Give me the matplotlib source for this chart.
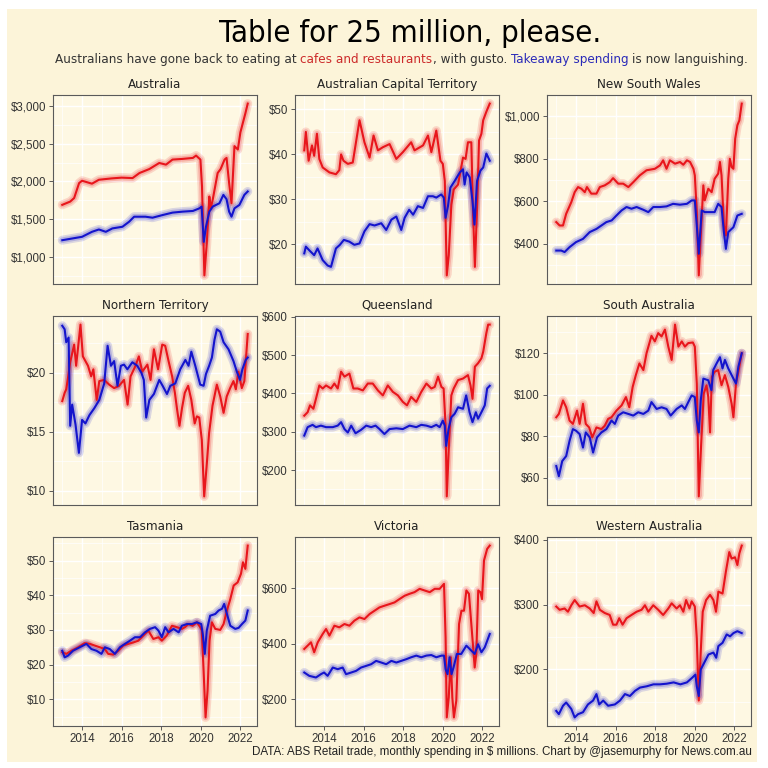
import numpy as np
import matplotlib
matplotlib.use("Agg")
import matplotlib.pyplot as plt
from matplotlib import font_manager as fm
from matplotlib.patches import Rectangle
from matplotlib.ticker import MultipleLocator, AutoMinorLocator, FuncFormatter

plt.rcParams['font.family'] = ['Liberation Sans', 'DejaVu Sans']

# monthly spending, $ millions as (decimal year, value)
australia_cafes = [(2013.0, 1690), (2013.4, 1733), (2013.6, 1780), (2013.85, 1978), (2014.0, 2009), (2014.5, 1970),
                   (2014.85, 2022), (2015.5, 2040), (2016.0, 2050), (2016.55, 2044), (2016.9, 2111), (2017.4, 2164),
                   (2017.9, 2244), (2018.24, 2222), (2018.57, 2289), (2019.08, 2298), (2019.6, 2311),
                   (2019.76, 2342), (2019.98, 2289), (2020.06, 1933), (2020.18, 756), (2020.3, 1178),
                   (2020.43, 1800), (2020.5, 1644), (2020.6, 1756), (2020.85, 2111), (2021.0, 2164),
                   (2021.2, 2289), (2021.3, 2311), (2021.43, 1978), (2021.55, 1711), (2021.7, 2467),
                   (2021.87, 2422), (2022.0, 2650), (2022.1, 2750), (2022.25, 2900), (2022.37, 3030)]
australia_takeaway = [(2013.0, 1222), (2014.0, 1267), (2014.5, 1333), (2014.85, 1364), (2015.2, 1333),
                      (2015.53, 1378), (2016.04, 1400), (2016.38, 1467), (2016.63, 1533), (2017.2, 1533),
                      (2017.56, 1520), (2018.07, 1555), (2018.57, 1587), (2019.08, 1600), (2019.6, 1609),
                      (2019.93, 1644), (2020.04, 1667), (2020.15, 1200), (2020.26, 1400), (2020.43, 1600),
                      (2020.6, 1667), (2020.94, 1711), (2021.14, 1822), (2021.3, 1764), (2021.43, 1600),
                      (2021.55, 1533), (2021.7, 1644), (2021.95, 1689), (2022.2, 1822), (2022.37, 1867)]

act_cafes = [(2013.0, 40.9), (2013.08, 45), (2013.22, 38.6), (2013.39, 42), (2013.5, 39.7), (2013.64, 44.6),
             (2013.76, 39), (2013.93, 37.1), (2014.27, 36), (2014.6, 35.6), (2014.77, 36.5), (2014.86, 40),
             (2014.98, 38.6), (2015.2, 37.9), (2015.45, 38.2), (2015.79, 47.6), (2016.04, 42.7), (2016.3, 39.3),
             (2016.5, 44.2), (2016.72, 40.9), (2016.97, 41.6), (2017.31, 42.3), (2017.65, 39), (2017.98, 40.5),
             (2018.4, 42.7), (2018.57, 40.9), (2019.0, 42), (2019.25, 44.2), (2019.42, 40.5), (2019.67, 45.3),
             (2019.88, 38.6), (2020.0, 37.9), (2020.1, 34.1), (2020.2, 13.1), (2020.3, 17.6), (2020.43, 28.8),
             (2020.55, 32.2), (2020.77, 33.3), (2021.02, 39.3), (2021.15, 39), (2021.27, 42.7), (2021.44, 42.7),
             (2021.52, 28.1), (2021.62, 15), (2021.73, 28.1), (2021.83, 43.1), (2021.95, 44.6), (2022.04, 47.6),
             (2022.2, 49.5), (2022.37, 51.3)]
act_takeaway = [(2013.0, 18), (2013.08, 19.5), (2013.25, 18.7), (2013.5, 17.6), (2013.67, 19.1), (2013.93, 16.5),
                (2014.18, 15.3), (2014.35, 15), (2014.6, 19.1), (2014.8, 19.9), (2015.0, 21), (2015.28, 20.6),
                (2015.53, 19.9), (2015.79, 20.2), (2016.04, 22.9), (2016.3, 24.5), (2016.55, 24.2),
                (2016.89, 24.7), (2017.14, 23.2), (2017.4, 25.5), (2017.65, 26.2), (2017.9, 23.2), (2018.07, 25.9),
                (2018.3, 27.7), (2018.5, 26.6), (2018.74, 28.5), (2019.0, 28.1), (2019.25, 30.7), (2019.5, 30.7),
                (2019.67, 30.4), (2019.92, 31.1), (2020.05, 30.4), (2020.14, 25.9), (2020.26, 28.5),
                (2020.38, 32.6), (2020.6, 34.1), (2020.86, 36), (2021.02, 36.7), (2021.1, 33.3), (2021.2, 36),
                (2021.36, 34.9), (2021.5, 29.6), (2021.6, 24.4), (2021.73, 34.1), (2021.9, 36.4), (2022.04, 37.1),
                (2022.2, 40.2), (2022.37, 38.6)]

nsw_cafes = [(2013.0, 502), (2013.17, 486), (2013.34, 486), (2013.5, 541), (2013.76, 596), (2013.93, 643),
             (2014.1, 667), (2014.27, 659), (2014.44, 643), (2014.55, 667), (2014.77, 636), (2015.03, 636),
             (2015.2, 667), (2015.45, 675), (2015.7, 690), (2015.87, 709), (2016.13, 683), (2016.38, 683),
             (2016.64, 667), (2016.89, 690), (2017.22, 722), (2017.56, 746), (2017.98, 753), (2018.24, 769),
             (2018.4, 793), (2018.57, 753), (2018.74, 793), (2019.0, 777), (2019.25, 785), (2019.42, 772),
             (2019.6, 793), (2019.76, 785), (2019.93, 753), (2020.0, 722), (2020.1, 549), (2020.2, 251),
             (2020.3, 439), (2020.43, 675), (2020.5, 604), (2020.68, 659), (2020.85, 643), (2021.0, 706),
             (2021.18, 730), (2021.27, 785), (2021.35, 722), (2021.47, 486), (2021.57, 439), (2021.69, 706),
             (2021.77, 800), (2021.86, 761), (2021.95, 753), (2022.04, 895), (2022.15, 958), (2022.25, 981),
             (2022.37, 1060)]
nsw_takeaway = [(2013.0, 368), (2013.25, 368), (2013.42, 361), (2013.67, 384), (2014.0, 408), (2014.35, 423),
                (2014.69, 455), (2015.03, 470), (2015.28, 486), (2015.53, 502), (2015.8, 510), (2016.04, 533),
                (2016.3, 557), (2016.55, 573), (2016.8, 565), (2017.06, 573), (2017.4, 560), (2017.65, 549),
                (2017.9, 573), (2018.24, 573), (2018.57, 576), (2018.9, 588), (2019.25, 584), (2019.6, 588),
                (2019.84, 604), (2020.0, 604), (2020.1, 486), (2020.2, 353), (2020.35, 557), (2020.5, 549),
                (2020.77, 549), (2021.0, 549), (2021.18, 588), (2021.35, 573), (2021.47, 455), (2021.57, 376),
                (2021.69, 455), (2021.95, 478), (2022.15, 533), (2022.37, 541)]

nt_cafes = [(2013.0, 17.6), (2013.12, 18.3), (2013.2, 18.6), (2013.3, 19.7), (2013.4, 20.9), (2013.6, 22.4),
            (2013.7, 20.6), (2013.92, 24.1), (2014.04, 21.4), (2014.17, 21), (2014.3, 20.6), (2014.46, 19.7),
            (2014.57, 20.3), (2014.74, 17.7), (2014.87, 19.3), (2015.12, 19.4), (2015.37, 19), (2015.62, 18.7),
            (2015.87, 18.9), (2016.12, 19.4), (2016.3, 17.3), (2016.45, 19.7), (2016.7, 20.6), (2016.87, 21.4),
            (2017.04, 20.1), (2017.3, 20.7), (2017.46, 19.4), (2017.63, 22), (2017.84, 20.3), (2018.05, 22.4),
            (2018.2, 22.3), (2018.37, 21), (2018.55, 19.7), (2018.69, 18.3), (2018.8, 16.9), (2018.92, 15.5),
            (2019.05, 17), (2019.19, 18.3), (2019.36, 18.9), (2019.52, 17.7), (2019.69, 15.7), (2019.8, 16.3),
            (2019.92, 16.2), (2020.05, 14.3), (2020.17, 9.5), (2020.29, 12), (2020.42, 14.9), (2020.59, 17.2),
            (2020.81, 19), (2020.98, 18), (2021.15, 16.6), (2021.31, 18), (2021.48, 18.7), (2021.65, 19.3),
            (2021.77, 18.6), (2021.9, 20.1), (2022.07, 18.7), (2022.2, 19.3), (2022.37, 23.3)]
nt_takeaway = [(2013.0, 24), (2013.12, 23.7), (2013.2, 22.6), (2013.32, 23), (2013.4, 15.5), (2013.5, 17.3),
               (2013.67, 15.6), (2013.84, 13.2), (2014.0, 16), (2014.17, 15.7), (2014.37, 16.4), (2014.62, 17),
               (2014.87, 17.7), (2015.12, 19.1), (2015.29, 22.3), (2015.46, 20.6), (2015.62, 21), (2015.79, 18.9),
               (2015.96, 20.6), (2016.12, 20.7), (2016.29, 20.3), (2016.54, 20.9), (2016.79, 20.6), (2017.0, 20),
               (2017.12, 19.4), (2017.24, 16.2), (2017.4, 17.7), (2017.63, 18.2), (2017.9, 19.4), (2018.07, 18.9),
               (2018.29, 18.2), (2018.46, 18.9), (2018.71, 19.1), (2018.96, 20.3), (2019.22, 21.1),
               (2019.38, 20.6), (2019.52, 21.8), (2019.72, 20.6), (2019.97, 19), (2020.14, 18.9), (2020.26, 19.9),
               (2020.42, 20.6), (2020.56, 21.3), (2020.69, 22.8), (2020.81, 23.7), (2020.98, 23.5),
               (2021.15, 22.6), (2021.4, 22), (2021.65, 21), (2021.82, 20.1), (2021.98, 19.4), (2022.1, 20.3),
               (2022.27, 21.1), (2022.37, 21.3)]

qld_cafes = [(2013.0, 342), (2013.17, 351), (2013.29, 369), (2013.46, 360), (2013.59, 386), (2013.76, 421),
             (2013.93, 413), (2014.1, 421), (2014.35, 413), (2014.52, 426), (2014.69, 413), (2014.86, 457),
             (2015.03, 444), (2015.28, 452), (2015.48, 413), (2015.7, 413), (2015.96, 408), (2016.21, 426),
             (2016.46, 426), (2016.72, 408), (2016.97, 395), (2017.22, 421), (2017.48, 404), (2017.73, 395),
             (2017.98, 378), (2018.19, 369), (2018.4, 391), (2018.66, 378), (2018.91, 404), (2019.17, 426),
             (2019.42, 413), (2019.59, 417), (2019.76, 444), (2019.93, 417), (2020.04, 413), (2020.14, 316),
             (2020.2, 131), (2020.3, 254), (2020.43, 395), (2020.55, 413), (2020.77, 435), (2021.02, 439),
             (2021.27, 448), (2021.4, 421), (2021.5, 386), (2021.62, 470), (2021.78, 479), (2021.95, 492),
             (2022.04, 509), (2022.2, 558), (2022.29, 580), (2022.37, 580)]
qld_takeaway = [(2013.0, 290), (2013.17, 312), (2013.42, 318), (2013.59, 312), (2013.84, 316), (2014.1, 312),
                (2014.44, 312), (2014.69, 316), (2014.86, 325), (2015.03, 307), (2015.2, 298), (2015.37, 316),
                (2015.59, 296), (2015.87, 305), (2016.13, 316), (2016.38, 312), (2016.6, 316), (2016.8, 307),
                (2017.05, 294), (2017.31, 307), (2017.65, 309), (2017.98, 307), (2018.32, 316), (2018.66, 312),
                (2018.91, 318), (2019.17, 316), (2019.42, 312), (2019.67, 318), (2019.84, 312), (2020.0, 329),
                (2020.1, 316), (2020.17, 263), (2020.29, 307), (2020.43, 338), (2020.6, 347), (2020.77, 364),
                (2021.02, 360), (2021.18, 395), (2021.35, 351), (2021.5, 325), (2021.67, 351), (2021.78, 334),
                (2021.95, 351), (2022.12, 369), (2022.24, 413), (2022.37, 420)]

sa_cafes = [(2013.0, 89.2), (2013.13, 90.8), (2013.34, 97.3), (2013.5, 94), (2013.67, 87.6), (2013.84, 86),
            (2014.05, 92.4), (2014.18, 86), (2014.35, 95.7), (2014.49, 86), (2014.66, 84.3), (2014.82, 79.5),
            (2015.03, 84.3), (2015.28, 83.5), (2015.45, 85.1), (2015.62, 88.4), (2015.79, 89.2), (2016.04, 92.4),
            (2016.3, 94.9), (2016.52, 98.9), (2016.69, 94), (2016.86, 103.8), (2017.02, 109.5), (2017.2, 115.1),
            (2017.4, 111.9), (2017.56, 120), (2017.81, 128.4), (2017.98, 125.7), (2018.15, 129.7),
            (2018.32, 128.1), (2018.49, 131.4), (2018.66, 123.2), (2018.83, 116.8), (2019.0, 133.8),
            (2019.17, 123.2), (2019.34, 125.7), (2019.5, 123.2), (2019.67, 124.9), (2019.9, 125.2),
            (2020.0, 123.2), (2020.1, 105.4), (2020.2, 51.1), (2020.32, 76.2), (2020.45, 100.5),
            (2020.59, 104.6), (2020.68, 98.9), (2020.77, 81.9), (2020.86, 108.6), (2021.0, 111.1),
            (2021.18, 111.9), (2021.35, 104.6), (2021.52, 109.5), (2021.69, 103.8), (2021.86, 95.7),
            (2021.95, 89.2), (2022.08, 105.4), (2022.2, 111.1), (2022.37, 120)]
sa_takeaway = [(2013.0, 65.7), (2013.13, 60.8), (2013.3, 68.1), (2013.5, 70.5), (2013.67, 77.8), (2013.84, 83.5),
               (2014.0, 82.7), (2014.18, 81.1), (2014.35, 74.6), (2014.49, 81.9), (2014.69, 79.5), (2014.86, 72.2),
               (2015.06, 79.5), (2015.28, 81.9), (2015.53, 83.5), (2015.79, 87.6), (2015.96, 86), (2016.13, 90),
               (2016.38, 91.6), (2016.64, 90.8), (2016.89, 90), (2017.14, 91.6), (2017.4, 90.8), (2017.65, 92.4),
               (2017.81, 96.5), (2018.07, 93.2), (2018.32, 94), (2018.57, 93.2), (2018.78, 90), (2019.08, 93.2),
               (2019.34, 94.9), (2019.5, 93.2), (2019.67, 96.5), (2019.84, 99.7), (2020.0, 98.9), (2020.1, 87.6),
               (2020.2, 81.9), (2020.3, 97.3), (2020.43, 107.8), (2020.68, 107), (2020.84, 102.2),
               (2020.93, 111.9), (2021.1, 115.1), (2021.27, 118.1), (2021.4, 112.7), (2021.52, 116.8),
               (2021.69, 112.7), (2021.95, 107.8), (2022.08, 105.4), (2022.2, 113.5), (2022.37, 120)]

tas_cafes = [(2013.0, 23.6), (2013.2, 23.1), (2013.46, 24), (2013.8, 25), (2014.13, 26.2), (2014.39, 26),
             (2014.64, 25.5), (2014.9, 25), (2015.15, 24.5), (2015.32, 23.1), (2015.57, 22.9), (2015.83, 24),
             (2016.08, 25.5), (2016.34, 26), (2016.59, 26.4), (2016.84, 26.9), (2017.1, 28.4), (2017.35, 29.8),
             (2017.6, 27.4), (2017.86, 27.9), (2018.03, 26.9), (2018.28, 28.4), (2018.54, 31.2), (2018.79, 30.8),
             (2019.04, 30.3), (2019.2, 30.8), (2019.37, 31.7), (2019.59, 31.2), (2019.8, 32.2), (2019.97, 30.8),
             (2020.05, 29.8), (2020.14, 18.3), (2020.24, 4.8), (2020.34, 12.5), (2020.44, 26.9), (2020.56, 32.2),
             (2020.73, 30.3), (2020.98, 30), (2021.15, 31.7), (2021.32, 35.6), (2021.49, 38.9), (2021.66, 42.8),
             (2021.86, 43.7), (2022.03, 46.2), (2022.13, 49.5), (2022.25, 47.6), (2022.37, 54.3)]
tas_takeaway = [(2013.0, 24), (2013.12, 22.1), (2013.29, 22.6), (2013.54, 24), (2013.88, 25), (2014.22, 26),
                (2014.47, 24.5), (2014.73, 24), (2014.98, 23.1), (2015.15, 25), (2015.4, 24.5), (2015.66, 23.1),
                (2015.91, 25), (2016.17, 26), (2016.42, 26.9), (2016.67, 27.9), (2016.93, 27.9), (2017.18, 29.3),
                (2017.43, 30.3), (2017.69, 30.8), (2017.86, 29.8), (2018.03, 27.9), (2018.2, 30.8), (2018.37, 29.3),
                (2018.62, 30.3), (2018.88, 29.3), (2019.04, 31.2), (2019.3, 31.7), (2019.55, 31.7), (2019.8, 32.2),
                (2020.02, 31.7), (2020.1, 28.8), (2020.2, 23.1), (2020.3, 29.8), (2020.47, 34.1), (2020.73, 34.6),
                (2020.9, 35.6), (2021.07, 36.1), (2021.18, 37.5), (2021.32, 34.6), (2021.49, 31.2), (2021.74, 30.3),
                (2021.91, 30.6), (2022.08, 31.7), (2022.25, 32.7), (2022.37, 35.6)]

vic_cafes = [(2013.0, 381), (2013.17, 393), (2013.34, 405), (2013.5, 369), (2013.68, 405), (2013.93, 435),
             (2014.1, 453), (2014.27, 429), (2014.52, 465), (2014.77, 459), (2015.03, 471), (2015.28, 465),
             (2015.53, 483), (2015.79, 495), (2016.04, 489), (2016.3, 507), (2016.55, 519), (2016.8, 531),
             (2017.05, 537), (2017.31, 543), (2017.56, 549), (2017.81, 561), (2018.07, 573), (2018.32, 580),
             (2018.57, 586), (2018.83, 598), (2019.08, 592), (2019.34, 586), (2019.59, 598), (2019.84, 598),
             (2020.06, 616), (2020.14, 423), (2020.2, 134), (2020.3, 206), (2020.4, 351), (2020.48, 206),
             (2020.56, 134), (2020.68, 194), (2020.82, 471), (2020.94, 519), (2021.07, 519), (2021.19, 592),
             (2021.32, 580), (2021.44, 471), (2021.52, 398), (2021.61, 314), (2021.69, 362), (2021.79, 592),
             (2021.9, 586), (2021.98, 561), (2022.08, 700), (2022.24, 742), (2022.37, 754)]
vic_takeaway = [(2013.0, 296), (2013.25, 284), (2013.59, 278), (2013.84, 290), (2014.0, 296), (2014.18, 284),
                (2014.44, 314), (2014.69, 308), (2014.94, 314), (2015.11, 290), (2015.37, 296), (2015.62, 302),
                (2015.87, 314), (2016.13, 320), (2016.38, 326), (2016.63, 338), (2016.89, 332), (2017.14, 326),
                (2017.4, 338), (2017.65, 332), (2017.9, 338), (2018.15, 344), (2018.4, 351), (2018.66, 357),
                (2018.91, 351), (2019.17, 357), (2019.42, 359), (2019.67, 351), (2019.93, 357), (2020.06, 357),
                (2020.14, 308), (2020.24, 290), (2020.34, 351), (2020.44, 290), (2020.54, 314), (2020.71, 363),
                (2020.93, 363), (2021.19, 393), (2021.44, 375), (2021.61, 363), (2021.78, 398), (2021.95, 369),
                (2022.12, 387), (2022.37, 435)]

wa_cafes = [(2013.0, 297), (2013.17, 292), (2013.42, 294), (2013.59, 289), (2013.76, 299), (2013.93, 307),
            (2014.18, 297), (2014.44, 299), (2014.69, 294), (2014.89, 287), (2015.03, 305), (2015.2, 292),
            (2015.45, 287), (2015.7, 284), (2015.87, 269), (2016.04, 269), (2016.18, 279), (2016.35, 269),
            (2016.55, 279), (2016.8, 284), (2017.06, 289), (2017.31, 292), (2017.48, 299), (2017.65, 289),
            (2017.9, 299), (2018.15, 292), (2018.4, 284), (2018.66, 294), (2018.83, 302), (2019.08, 294),
            (2019.25, 299), (2019.42, 289), (2019.56, 307), (2019.73, 294), (2019.84, 305), (2020.0, 297),
            (2020.1, 248), (2020.2, 152), (2020.3, 228), (2020.4, 289), (2020.57, 307), (2020.77, 315),
            (2020.94, 307), (2021.07, 289), (2021.19, 320), (2021.4, 317), (2021.57, 351), (2021.74, 381),
            (2021.86, 371), (2022.03, 373), (2022.15, 361), (2022.25, 379), (2022.37, 391)]
wa_takeaway = [(2013.0, 136), (2013.13, 131), (2013.34, 144), (2013.5, 149), (2013.76, 139), (2013.93, 126),
               (2014.1, 131), (2014.35, 134), (2014.6, 146), (2014.86, 152), (2015.03, 162), (2015.17, 146),
               (2015.37, 152), (2015.62, 144), (2015.96, 146), (2016.22, 152), (2016.47, 162), (2016.72, 159),
               (2016.98, 167), (2017.23, 172), (2017.57, 174), (2017.91, 177), (2018.24, 177), (2018.58, 178),
               (2018.93, 180), (2019.27, 177), (2019.6, 180), (2019.86, 187), (2020.03, 192), (2020.1, 174),
               (2020.2, 159), (2020.3, 200), (2020.47, 210), (2020.69, 223), (2020.94, 226), (2021.08, 218),
               (2021.19, 236), (2021.4, 241), (2021.61, 254), (2021.78, 251), (2021.95, 256), (2022.15, 259),
               (2022.37, 256)]

states = ["Australia", "Australian Capital Territory", "New South Wales",
          "Northern Territory", "Queensland", "South Australia",
          "Tasmania", "Victoria", "Western Australia"]
cafes = [australia_cafes, act_cafes, nsw_cafes, nt_cafes, qld_cafes, sa_cafes, tas_cafes, vic_cafes, wa_cafes]
takeaway = [australia_takeaway, act_takeaway, nsw_takeaway, nt_takeaway, qld_takeaway, sa_takeaway,
            tas_takeaway, vic_takeaway, wa_takeaway]
y_steps = [500, 10, 200, 5, 100, 20, 10, 200, 100]

BG = "#fcf4d9"
PANEL = "#fef8e3"
RED = "#e8161c"
BLUE = "#1414cc"
TXT = "#333333"
PX = 768


def narrow_font():
    # a condensed face if one is installed, else Liberation Sans
    for f in fm.fontManager.ttflist:
        nm = f.name + " " + str(f.stretch)
        if ("Narrow" in nm or "ondensed" in nm) and f.style == "normal" and f.weight in (400, "normal", "regular"):
            return fm.FontProperties(fname=f.fname)
    return fm.FontProperties(family="Liberation Sans")


NARROW = narrow_font()
PLAIN = fm.FontProperties(family="Liberation Sans")

fig = plt.figure(figsize=(7.68, 7.68), dpi=100, facecolor="white")
fig.patches.append(Rectangle((7 / PX, 6 / PX), 750 / PX, 753 / PX, transform=fig.transFigure,
                             facecolor=BG, edgecolor="none", zorder=-10))
renderer = fig.canvas.get_renderer()


def fit(t, width_px):
    w = t.get_window_extent(renderer).width
    t.set_fontsize(t.get_fontsize() * width_px / w)


def fy(px):
    return 1 - px / PX


title = fig.text(410 / PX, fy(42), "Table for 25 million, please.", ha="center", va="baseline",
                 fontproperties=NARROW, fontsize=24, color="black")
fit(title, 385)

# subtitle drawn piece by piece so two phrases can be coloured
pieces = [("Australians have gone back to eating at", TXT, True), ("cafes and restaurants", "#cc2a2a", False),
          (", with gusto.", TXT, True), ("Takeaway spending", "#2a2ab8", True), ("is now languishing.", TXT, False)]
sub_fs = 10.0
for _ in range(2):
    arts = []
    for txt, col, gap in pieces:
        arts.append(fig.text(0, fy(63), txt, color=col, fontproperties=NARROW, fontsize=sub_fs,
                             ha="left", va="baseline"))
    probe1 = fig.text(0, 0, "a a", fontproperties=NARROW, fontsize=sub_fs)
    probe2 = fig.text(0, 0, "aa", fontproperties=NARROW, fontsize=sub_fs)
    space = probe1.get_window_extent(renderer).width - probe2.get_window_extent(renderer).width
    probe1.remove()
    probe2.remove()
    widths = [a.get_window_extent(renderer).width for a in arts]
    total = sum(widths) + space * sum(1 for p in pieces[:-1] if p[2])
    if _ == 0:
        for a in arts:
            a.remove()
        sub_fs *= 695 / total
x = 55.0
for a, w, p in zip(arts, widths, pieces):
    a.set_x(x / PX)
    x += w + (space if p[2] else 0)

lefts = [53, 295, 547]
tops = [95, 316, 537]
W, H = 204, 189

panel_titles = []
for i, name in enumerate(states):
    r, c = divmod(i, 3)
    ax = fig.add_axes([lefts[c] / PX, 1 - (tops[r] + H) / PX, W / PX, H / PX])
    ax.set_facecolor(PANEL)
    for pts, col in [(cafes[i], RED), (takeaway[i], BLUE)]:
        arr = np.array(pts)
        ax.plot(arr[:, 0], arr[:, 1], color=col, lw=6.5, alpha=0.15, solid_capstyle="round", zorder=2)
        ax.plot(arr[:, 0], arr[:, 1], color=col, lw=4, alpha=0.2, solid_capstyle="round", zorder=3)
        ax.plot(arr[:, 0], arr[:, 1], color=col, lw=1.5, zorder=4)
    ax.margins(x=0.05, y=0.05)
    ax.xaxis.set_major_locator(MultipleLocator(2))
    ax.xaxis.set_minor_locator(MultipleLocator(1))
    ax.yaxis.set_major_locator(MultipleLocator(y_steps[i]))
    ax.yaxis.set_minor_locator(AutoMinorLocator(2))
    ax.yaxis.set_major_formatter(FuncFormatter(lambda v, p: f"${v:,.0f}"))
    ax.xaxis.set_major_formatter(FuncFormatter(lambda v, p: f"{v:.0f}"))
    ax.grid(which="major", color="white", lw=1.0, zorder=0)
    ax.grid(which="minor", color="white", lw=0.5, zorder=0)
    ax.set_axisbelow(True)
    for s in ax.spines.values():
        s.set_color("#5a5a5a")
        s.set_linewidth(0.8)
    ax.tick_params(which="minor", length=0)
    ax.tick_params(which="major", length=3, width=0.7, color="#5a5a5a", labelcolor=TXT,
                   labelsize=8.3, pad=2)
    if r < 2:
        ax.tick_params(axis="x", which="both", bottom=False, labelbottom=False)
    t = ax.text(0.5, 1 + 7 / H, name, transform=ax.transAxes, ha="center", va="baseline",
                fontproperties=NARROW, fontsize=10, color="#222222")
    panel_titles.append(t)

# size panel titles so the longest matches the reference width
fit(panel_titles[1], 160)
for t in panel_titles:
    t.set_fontsize(panel_titles[1].get_fontsize())

foot = fig.text(752 / PX, fy(755), "DATA: ABS Retail trade, monthly spending in $ millions. Chart by @jasemurphy for News.com.au",
                ha="right", va="baseline", fontproperties=PLAIN, fontsize=8, color="#222222")
fit(foot, 499)

fig.savefig("out.png", dpi=100, facecolor=fig.get_facecolor())
